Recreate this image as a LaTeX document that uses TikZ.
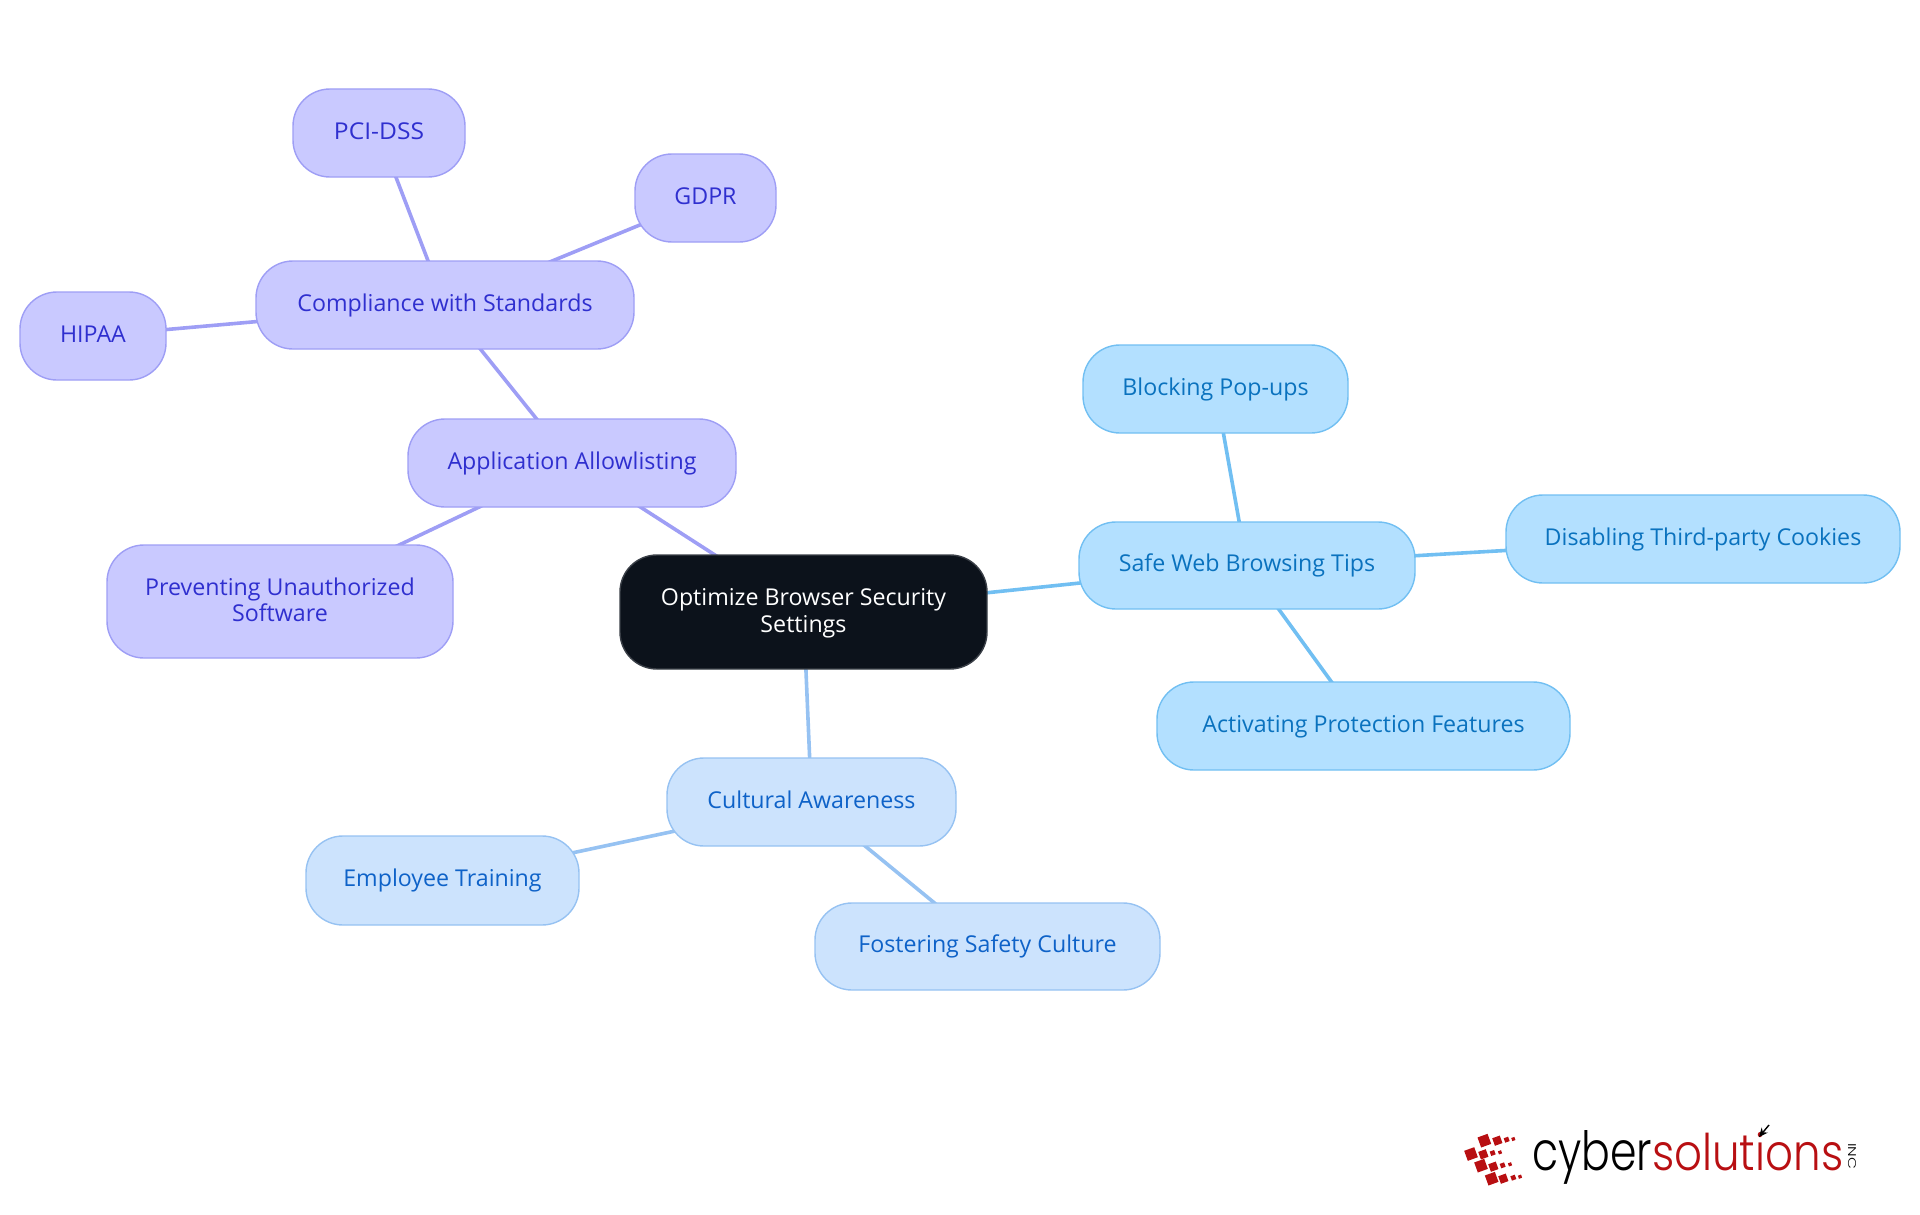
\documentclass[tikz,border=0pt]{standalone}
\usepackage{fontspec}
\usepackage{graphicx}
\usetikzlibrary{arrows.meta}
\setmainfont{Open Sans}
\newfontfamily\logofont[UprightFont=* Light]{Poppins}
\pgfdeclarelayer{bg}
\pgfsetlayers{bg,main}
\definecolor{pfill}{HTML}{C9C9FF}\definecolor{pline}{HTML}{9E9EF5}\definecolor{ptext}{HTML}{2F2FCF}
\definecolor{bfill}{HTML}{B3E0FF}\definecolor{bline}{HTML}{71BFF2}\definecolor{btext}{HTML}{0A72BE}
\definecolor{lfill}{HTML}{CCE3FD}\definecolor{lline}{HTML}{96C2F2}\definecolor{ltext}{HTML}{0E62C8}
\definecolor{rootfill}{HTML}{0C121B}\definecolor{rootline}{HTML}{3A3F47}
\definecolor{logored}{HTML}{B80F12}
\tikzset{
  x=1pt,y=-1pt,
  mm/.style={rounded corners=37pt,line width=1.4pt,inner sep=0pt,align=center,text height=18pt,text depth=6pt,font=\fontsize{23.2}{26.2}\selectfont},
  twolines/.style={text height=46pt,text depth=6pt},
  pnode/.style={mm,draw=pline,fill=pfill,text=ptext},
  bnode/.style={mm,draw=bline,fill=bfill,text=btext},
  lnode/.style={mm,draw=lline,fill=lfill,text=ltext},
  rootnode/.style={mm,draw=rootline,fill=rootfill,text=white},
  pedge/.style={pline,line width=3.6pt},
  bedge/.style={bline,line width=3.6pt},
  ledge/.style={lline,line width=3.6pt},
  sq/.style={fill=logored,rotate=20,inner sep=0pt,draw=none},
}
\newcommand\boxnode[7]{\node[#1,minimum width=#5pt-#3pt,minimum height=#6pt-#4pt] (#2) at ({(#3+#5)/2},{(#4+#6)/2}) {#7};}
\begin{document}
\begin{tikzpicture}
\useasboundingbox (0,0) rectangle (1920,1215);
\boxnode{rootnode,twolines}{root}{620}{555}{987}{669}{Optimize Browser Security\\Settings}
\boxnode{pnode}{app}{408}{419}{736}{507}{Application Allowlisting}
\boxnode{pnode}{comp}{256}{261}{634}{349}{Compliance with Standards}
\boxnode{pnode}{pci}{293}{89}{465}{177}{\scalebox{1.06}[1]{PCI-DSS}}
\boxnode{pnode}{gdpr}{635}{154}{776}{242}{GDPR}
\boxnode{pnode}{hipaa}{20}{292}{166}{380}{HIPAA}
\boxnode{pnode,twolines}{prev}{107}{545}{453}{658}{Preventing Unauthorized\\Software}
\boxnode{bnode}{safe}{1079}{522}{1415}{609}{Safe Web Browsing Tips}
\boxnode{bnode}{block}{1083}{345}{1348}{433}{Blocking Pop-ups}
\boxnode{bnode}{cook}{1506}{495}{1900}{583}{Disabling Third-party Cookies}
\boxnode{bnode}{act}{1157}{682}{1570}{770}{Activating Protection Features}
\boxnode{lnode}{cult}{667}{758}{956}{846}{Cultural Awareness}
\boxnode{lnode}{emp}{306}{836}{579}{925}{Employee Training}
\boxnode{lnode}{fost}{815}{903}{1160}{990}{Fostering Safety Culture}
\begin{pgfonlayer}{bg}
\draw[pedge] (root.center) -- (app.center);
\draw[pedge] (app.center) -- (comp.center);
\draw[pedge] (app.center) -- (prev.center);
\draw[pedge] (comp.center) -- (pci.center);
\draw[pedge] (comp.center) -- (gdpr.center);
\draw[pedge] (comp.center) -- (hipaa.center);
\draw[bedge] (root.center) -- (safe.center);
\draw[bedge] (safe.center) -- (block.center);
\draw[bedge] (safe.center) -- (cook.center);
\draw[bedge] (safe.center) -- (act.center);
\draw[ledge] (root.center) -- (cult.center);
\draw[ledge] (cult.center) -- (emp.center);
\draw[ledge] (cult.center) -- (fost.center);
\end{pgfonlayer}
% logo squares
\foreach \cx/\cy/\s in {133/122/32,172/122/24,200/119/14,220/117/10,
  93/162/32,130/163/24,158/159/14,180/157/10,
  123/197/32,160/200/24,188/196/14,210/193/10,
  155/236/32,190/236/24,220/233/14,240/230/10}
  {\node[sq,minimum size=\s/3 pt] at ({1440+\cx/3},{1100+\cy/3}) {};}
\node[inner sep=0pt,anchor=base west] (lc) at (1532,1170) {\resizebox{120pt}{40pt}{\logofont cyber}};
\node[inner sep=0pt,anchor=base west,text=logored] (ls) at (1652,1170) {\resizebox{191pt}{38pt}{\logofont solutions}};
\node[inner sep=0pt,rotate=-90,text=black] (inc) at (1852,1156) {\resizebox{26pt}{8pt}{\logofont INC}};
\coordinate (arrS) at (1759,1137);
\coordinate (arrE) at (1769,1125);
\draw[black,line width=1.4pt,-{Stealth[length=9pt,width=8pt]}] (arrE) -- (arrS);
\end{tikzpicture}
\end{document}
